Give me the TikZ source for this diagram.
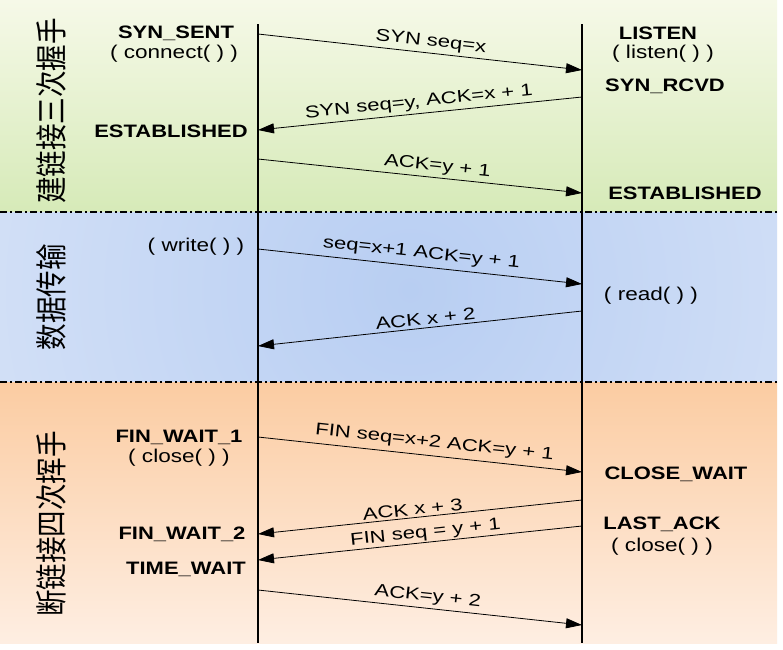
\documentclass[tikz,border=0pt]{standalone}
\usepackage{fontspec}
\setmainfont{Liberation Sans}
\newfontfamily\statefont[FakeStretch=1.22]{Liberation Sans}
\newfontfamily\msgfont[FakeStretch=1.3]{Liberation Sans}
\newfontfamily\cjk[FakeStretch=0.83]{Noto Sans CJK SC}
\usetikzlibrary{arrows.meta}
\tikzset{>={Triangle[length=16pt,width=10pt]}}
\tikzset{
  state/.style={font=\statefont\bfseries\fontsize{18}{18}\selectfont, inner sep=0pt},
  call/.style={font=\statefont\fontsize{18.5}{18}\selectfont, inner sep=0pt},
  msg/.style={font=\msgfont\fontsize{17}{17}\selectfont, sloped, above, inner sep=3pt},
  phase/.style={font=\cjk\fontsize{32}{32}\selectfont, rotate=90, inner sep=0pt},
  sep/.style={line width=1.4pt, dash pattern=on 7pt off 3pt on 2pt off 3pt},
  msgline/.style={->, line width=0.8pt}
}
\definecolor{greentop}{RGB}{246,249,232}
\definecolor{greenbot}{RGB}{214,234,184}
\definecolor{bluemid}{RGB}{184,206,242}
\definecolor{blueedge}{RGB}{230,237,250}
\definecolor{orangetop}{RGB}{251,204,162}
\definecolor{orangebot}{RGB}{254,238,226}
\begin{document}
\begin{tikzpicture}[x=1pt, y=-1pt]
        \useasboundingbox (0, 0) rectangle (783, 649);
        \fill[white] (0, 0) rectangle (783, 649);
        % bands
        \shade[top color=greentop, bottom color=greenbot] (0, 0) rectangle (777, 212);
        \begin{scope}
          \clip (0, 212) rectangle (777, 382);
          \shade[inner color=bluemid, outer color=blueedge] (410, 290) circle (760);
        \end{scope}
        \shade[top color=orangetop, bottom color=orangebot] (0, 382) rectangle (777, 643);
        \draw[sep] (0, 212)--(777, 212);
        \draw[sep] (0, 382)--(777, 382);
        % hosts
        \coordinate (ctop) at (258, 24);
        \coordinate (cbot) at (258, 643);
        \coordinate (stop) at (582, 24);
        \coordinate (sbot) at (582, 643);
        \draw[line width=1.2pt] (ctop)--(cbot);
        \draw[line width=1.2pt] (stop)--(sbot);
        % phases
        \node[phase] (open) at (51, 111) {建链接三次握手};
        \node[phase] (data) at (51, 297) {数据传输};
        \node[phase] (close) at (51, 524) {断链接四次挥手};
        % client side
        \node[state] (synsent) at (176, 33) {SYN\_SENT};
        \node[call] (connect) at (174, 54) {( connect( ) )};
        \node[state] (cest) at (171, 131) {ESTABLISHED};
        \node[call] (write) at (196, 247) {( write( ) )};
        \node[state] (fw1) at (179, 437) {FIN\_WAIT\_1};
        \node[call] (cclose) at (179, 458) {( close( ) )};
        \node[state] (fw2) at (182, 534) {FIN\_WAIT\_2};
        \node[state] (tw) at (186, 569) {TIME\_WAIT};
        % server side
        \node[state] (listen) at (658, 33) {LISTEN};
        \node[call] (listencall) at (663, 54) {( listen( ) )};
        \node[state] (synrcvd) at (665, 86) {SYN\_RCVD};
        \node[state] (sest) at (685, 193) {ESTABLISHED};
        \node[call] (read) at (651, 296) {( read( ) )};
        \node[state] (cw) at (676, 474) {CLOSE\_WAIT};
        \node[state] (lastack) at (662, 524) {LAST\_ACK};
        \node[call] (sclose) at (662, 547) {( close( ) )};
        % messages
        \foreach \n/\y in {c1/34, c2/130, c3/159, c4/249, c5/346, c6/437, c7/534, c8/560, c9/590}
          \coordinate (\n) at (258, \y);
        \foreach \n/\y in {s1/70, s2/97, s3/193, s4/284, s5/311, s6/472, s7/500, s8/526, s9/625}
          \coordinate (\n) at (582, \y);
        \draw[msgline] (c1)--(s1) node[msg, pos=.53] {SYN seq=x};
        \draw[msgline] (s2)--(c2) node[msg, pos=.5] {SYN seq=y, ACK=x + 1};
        \draw[msgline] (c3)--(s3) node[msg, pos=.55] {ACK=y + 1};
        \draw[msgline] (c4)--(s4) node[msg, pos=.5, inner sep=5pt] {seq=x+1 ACK=y + 1};
        \draw[msgline] (s5)--(c5) node[msg, pos=.48] {ACK x + 2};
        \draw[msgline] (c6)--(s6) node[msg, pos=.54, inner sep=5pt] {FIN seq=x+2 ACK=y + 1};
        \draw[msgline] (s7)--(c7) node[msg, pos=.52, inner sep=2pt] {ACK x + 3};
        \draw[msgline] (s8)--(c8) node[msg, pos=.48, inner sep=1pt] {FIN seq = y + 1};
        \draw[msgline] (c9)--(s9) node[msg, pos=.52] {ACK=y + 2};
\end{tikzpicture}
\end{document}
